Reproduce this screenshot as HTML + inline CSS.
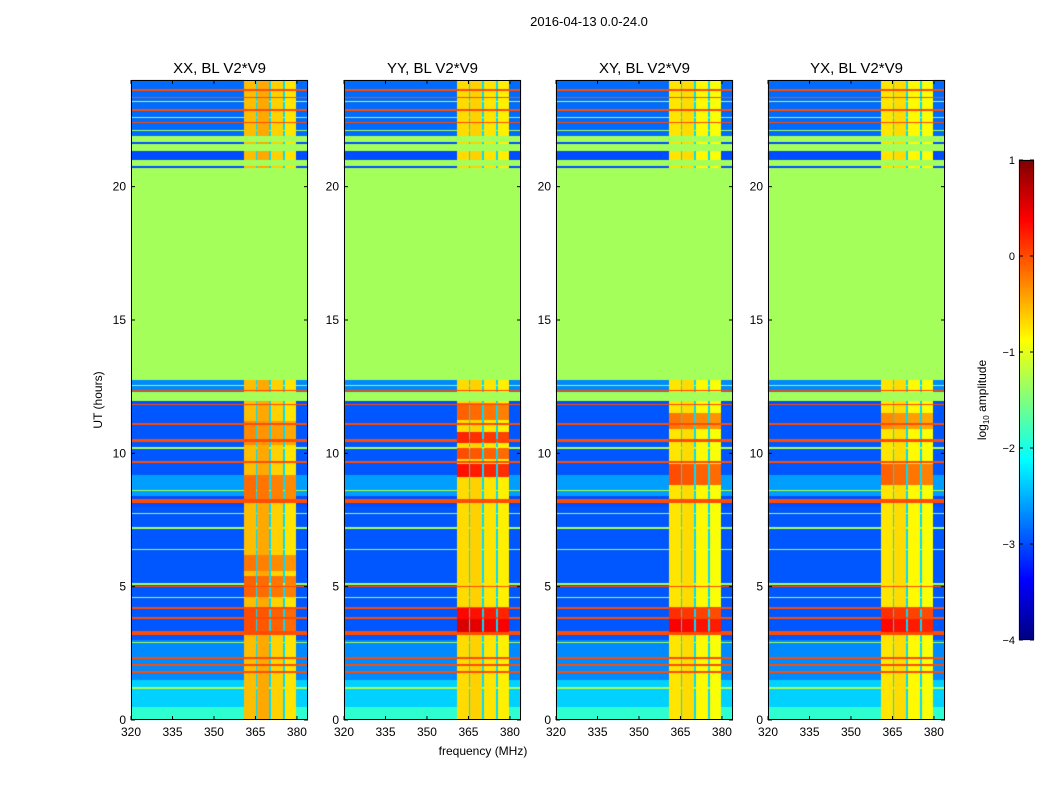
<!DOCTYPE html>
<html><head><meta charset="utf-8">
<style>
body{margin:0;background:#fff;}
#wrap{position:relative;width:1050px;height:800px;background:#fff;font-family:"Liberation Sans",sans-serif;}
canvas{position:absolute;left:0;top:0;}
svg{position:absolute;left:0;top:0;}
text{font-family:"Liberation Sans",sans-serif;}
</style></head>
<body>
<div id="wrap">
<canvas id="cv" width="1050" height="800"></canvas>
<svg id="sv" width="1050" height="800"></svg>
</div>
<script>
// ---- data ----
const panelTitles = ["XX, BL V2*V9","YY, BL V2*V9","XY, BL V2*V9","YX, BL V2*V9"];
const xTicks = [320,335,350,365,380];
const yTicks = [0,5,10,15,20];
const cbTicks = [1,0,-1,-2,-3,-4];
const cbTickLabels = ["1","0","\u22121","\u22122","\u22123","\u22124"];
// flagged (constant) time ranges [start,end] hours
const flagBands = [[11.95,12.3],[12.75,20.7],[20.78,21.0],[21.32,21.6],[21.66,21.9]];
const flagValue = -1.32;
// background level by time range [start,end,log10 amp]
const rowLevels = [[0,0.5,-1.9],[0.5,1.5,-2.35],[1.5,3.0,-2.7],[3.0,8.0,-2.95],[8.4,9.2,-2.6],[9.2,11.9,-2.95],[12.3,12.75,-2.7],[21.9,24,-2.85]];
const defaultLevel = -3.0;
// horizontal lines [hour, thickness(h), value]
const hLines = [[1.81,0.06,0.0],[2.07,0.06,0.0],[2.32,0.06,0.0],[3.26,0.14,0.0],[3.82,0.05,0.0],[4.2,0.05,0.0],[5.0,0.05,0.0],[5.1,0.04,-1.3],
 [8.21,0.12,0.0],[9.67,0.05,0.0],[10.47,0.1,0.0],[11.1,0.05,0.0],[11.84,0.05,0.0],[12.35,0.05,0.0],
 [1.2,0.04,-1.3],[2.9,0.04,-1.3],[4.6,0.04,-1.3],[6.4,0.04,-1.3],[7.2,0.04,-1.3],[7.75,0.04,-1.3],[8.6,0.04,-1.3],[10.2,0.05,-1.3],[12.55,0.04,-1.3],
 [22.4,0.05,0.0],[22.87,0.05,0.0],[23.35,0.05,0.0],[23.63,0.05,0.0],[23.2,0.05,-1.1],[22.6,0.04,-1.3],[22.1,0.04,-1.3]];
// RFI frequency columns [startMHz,endMHz]
const rfiCols = [[360.7,365.1],[365.6,369.8],[370.5,374.9],[375.6,379.8]];
const rfiGapValue = -2.3;
// per-panel column base level
const colLevels = [[-0.55,-0.45,-0.65,-0.75],[-0.7,-0.65,-0.75,-0.8],[-0.75,-0.7,-0.85,-0.9],[-0.75,-0.7,-0.85,-0.9]];
// per-panel hot time ranges in RFI columns [start,end,value]
const hotRows = [
 [[3.3,4.2,0.0],[4.6,5.4,-0.1],[5.6,6.2,-0.2],[8.2,9.2,-0.15],[10.3,11.2,-0.3]],
 [[3.3,3.8,0.55],[3.8,4.2,0.35],[9.1,9.6,0.3],[9.8,10.2,0.0],[10.4,10.8,0.2],[11.25,11.9,-0.1]],
 [[3.3,3.8,0.4],[3.8,4.2,0.15],[8.8,9.6,0.0],[10.9,11.5,-0.2]],
 [[3.3,3.8,0.35],[3.8,4.2,0.15],[8.8,9.6,-0.1],[10.9,11.5,-0.3]]
];
const vmin=-4, vmax=1;
// ---- layout ----
const panelX=[131,344,556,768], PW=177, PT=80, PB=720;
const fMin=320, fMax=384, tMax=24;
function xs(p,f){return panelX[p]+(f-fMin)/(fMax-fMin)*PW;}
function ys(h){return PB-h/tMax*(PB-PT);}
function jet(v){let t=(v-vmin)/(vmax-vmin);t=Math.max(0,Math.min(1,t));
 const c=x=>Math.round(255*Math.max(0,Math.min(1,x)));
 return `rgb(${c(1.5-Math.abs(4*t-3))},${c(1.5-Math.abs(4*t-2))},${c(1.5-Math.abs(4*t-1))})`;}
function inR(h,arr){for(const a of arr){if(h>=a[0]&&h<a[1])return a;}return null;}
function value(p,h,colIdx,gap){
 if(inR(h,flagBands))return flagValue;
 let lv=-9;for(const l of hLines){if(Math.abs(h-l[0])<=l[1]/2)lv=Math.max(lv,l[2]);}
 let base; const r=inR(h,rowLevels); base=r?r[2]:defaultLevel;
 if(colIdx>=0){let cv=colLevels[p][colIdx];const hr=inR(h,hotRows[p]);if(hr)cv=Math.max(cv,hr[2]-0.05*colIdx);return Math.max(cv,lv);}
 if(gap)return Math.max(rfiGapValue,lv);
 return Math.max(base,lv);
}
const ctx=document.getElementById('cv').getContext('2d');
for(let p=0;p<4;p++){
 const segs=[[fMin,rfiCols[0][0],-1,false]];
 for(let i=0;i<rfiCols.length;i++){segs.push([rfiCols[i][0],rfiCols[i][1],i,false]);
  const nx=i<rfiCols.length-1?rfiCols[i+1][0]:null; if(nx)segs.push([rfiCols[i][1],nx,-1,true]);}
 segs.push([rfiCols[rfiCols.length-1][1],fMax,-1,false]);
 for(let y=PT;y<PB;y++){
  const h=(PB-y-0.5)/(PB-PT)*tMax;
  for(const s of segs){
   ctx.fillStyle=jet(value(p,h,s[2],s[3]));
   const x0=Math.round(xs(p,s[0])),x1=Math.round(xs(p,s[1]));
   ctx.fillRect(x0,y,Math.max(1,x1-x0),1);
  }
 }
}
// colorbar
const cbX=1019,cbW=15,cbT=160,cbB=640;
for(let y=cbT;y<cbB;y++){const v=vmax-(y-cbT+0.5)/(cbB-cbT)*(vmax-vmin);ctx.fillStyle=jet(v);ctx.fillRect(cbX,y,cbW,1);}
// ---- svg ----
const NS="http://www.w3.org/2000/svg", sv=document.getElementById('sv');
function el(tag,attrs,txt){const e=document.createElementNS(NS,tag);for(const k in attrs)e.setAttribute(k,attrs[k]);if(txt!==undefined)e.textContent=txt;sv.appendChild(e);return e;}
let t=el('text',{x:589,y:26,'font-size':13,'text-anchor':'middle'},"2016-04-13 0.0-24.0");


for(let p=0;p<4;p++){
 const r=el('rect',{x:panelX[p]+0.5,y:PT+0.5,width:PW-1,height:PB-PT-1,fill:'none',stroke:'#000','stroke-width':1});
 
 
 const tt=el('text',{x:panelX[p]+PW/2,y:73,'font-size':15,'text-anchor':'middle'},panelTitles[p]);
 
 
 for(const f of xTicks){const x=xs(p,f);
  el('line',{x1:x,y1:PB,x2:x,y2:PB-4,stroke:'#000'});el('line',{x1:x,y1:PT,x2:x,y2:PT+4,stroke:'#000'});
  const lb=el('text',{x:x,y:PB+16,'font-size':12,'text-anchor':'middle'},String(f));
  
  }
 for(const h of yTicks){const y=ys(h);
  el('line',{x1:panelX[p],y1:y,x2:panelX[p]+4,y2:y,stroke:'#000'});el('line',{x1:panelX[p]+PW,y1:y,x2:panelX[p]+PW-4,y2:y,stroke:'#000'});
  const lb=el('text',{x:panelX[p]-5,y:y+4,'font-size':12,'text-anchor':'end'},String(h));
  
  }
}
t=el('text',{x:102,y:400,'font-size':12,'text-anchor':'middle',transform:'rotate(-90 102 400)'},"UT (hours)");


t=el('text',{x:483,y:755,'font-size':12,'text-anchor':'middle'},"frequency (MHz)");


const cbr=el('rect',{x:cbX+0.5,y:cbT+0.5,width:cbW-1,height:cbB-cbT-1,fill:'none',stroke:'#000'});


cbTicks.forEach((v,i)=>{const y=cbT+(vmax-v)/(vmax-vmin)*(cbB-cbT);
 el('line',{x1:cbX,y1:y,x2:cbX+4,y2:y,stroke:'#000'});el('line',{x1:cbX+cbW,y1:y,x2:cbX+cbW-4,y2:y,stroke:'#000'});
 const lb=el('text',{x:cbX-4,y:y+4,'font-size':11,'text-anchor':'end'},cbTickLabels[i]);
 
 });
const cl=el('text',{x:986,y:400,'font-size':12,'text-anchor':'middle',transform:'rotate(-90 986 400)'});


const s1=document.createElementNS(NS,'tspan');s1.textContent='log';cl.appendChild(s1);
const s2=document.createElementNS(NS,'tspan');s2.setAttribute('font-size','8');s2.setAttribute('dy','3');s2.textContent='10';cl.appendChild(s2);
const s3=document.createElementNS(NS,'tspan');s3.setAttribute('dy','-3');s3.textContent=' amplitude';cl.appendChild(s3);
</script>
</body></html>
